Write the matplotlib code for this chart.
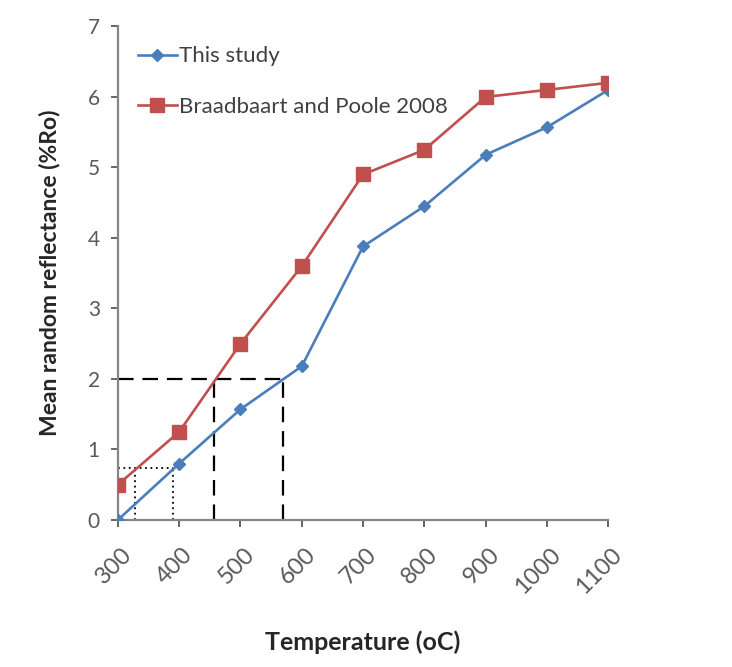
import matplotlib
matplotlib.use("Agg")
import matplotlib.pyplot as plt
from matplotlib.transforms import ScaledTranslation

temps = [300, 400, 500, 600, 700, 800, 900, 1000, 1100]
this_study = [0.0, 0.8, 1.57, 2.18, 3.88, 4.45, 5.18, 5.57, 6.1]
braadbaart = [0.5, 1.25, 2.5, 3.6, 4.9, 5.25, 6.0, 6.1, 6.2]
series_names = ["This study", "Braadbaart and Poole 2008"]

# guide lines (temperature, reflectance)
dash_level = 2.0
dash_temps = [457, 569]
dot_level = 0.74
dot_temps = [328, 390]

plt.rcParams['font.family'] = ['Lato', 'DejaVu Sans']

fig = plt.figure(figsize=(7.32, 6.67), dpi=100)
ax = fig.add_axes([0.161, 0.2204, 0.670, 0.740])

blue = '#4A7EBB'
red = '#C0504D'
ax.plot(temps, this_study, color=blue, lw=1.9, marker='D', ms=6.5, label=series_names[0], zorder=3)
ax.plot(temps, braadbaart, color=red, lw=1.9, marker='s', ms=9.5, label=series_names[1], zorder=3)

# dashed guides
ax.plot([temps[0], max(dash_temps)], [dash_level, dash_level], color='black', lw=1.6, ls=(0, (7, 4)), zorder=2)
for t in dash_temps:
    ax.plot([t, t], [0, dash_level], color='black', lw=1.6, ls=(0, (7, 4)), zorder=2)
ax.plot([temps[0], max(dot_temps)], [dot_level, dot_level], color='black', lw=1.3, ls=(0, (1, 2)), zorder=2)
for t in dot_temps:
    ax.plot([t, t], [0, dot_level], color='black', lw=1.3, ls=(0, (1, 2)), zorder=2)

ax.set_xlim(300, 1100)
ax.set_ylim(0, 7)
ax.set_xticks(temps)
ax.set_xticklabels([str(t) for t in temps], rotation=45, ha='right', rotation_mode='anchor')
ax.set_yticks(range(0, 8))

for s in ['top', 'right']:
    ax.spines[s].set_visible(False)
for s in ['left', 'bottom']:
    ax.spines[s].set_color('#868686')
    ax.spines[s].set_linewidth(1.6)
ax.tick_params(axis='both', colors='#595959', length=5, width=1.3, direction='out')
ax.tick_params(axis='x', labelsize=17, pad=12)
ax.tick_params(axis='y', labelsize=15, pad=8)
offset = ScaledTranslation(3 / 100, 0, fig.dpi_scale_trans)
for lab in ax.get_xticklabels():
    lab.set_color('#595959')
    lab.set_transform(lab.get_transform() + offset)
for lab in ax.get_yticklabels():
    lab.set_color('#595959')

ax.set_xlabel("Temperature (oC)", fontsize=18, fontweight='bold', color='#262626', labelpad=24)
ax.set_ylabel("Mean random reflectance (%Ro)", fontsize=16.5, fontweight='bold', color='#262626', labelpad=20)

leg = ax.legend(loc='upper left', bbox_to_anchor=(0.0, 1.0), frameon=False, fontsize=16,
                labelspacing=1.38, handlelength=1.75, handletextpad=0.1, borderaxespad=0.5)
for t in leg.get_texts():
    t.set_color('#404040')

fig.savefig('out.png', dpi=100)
